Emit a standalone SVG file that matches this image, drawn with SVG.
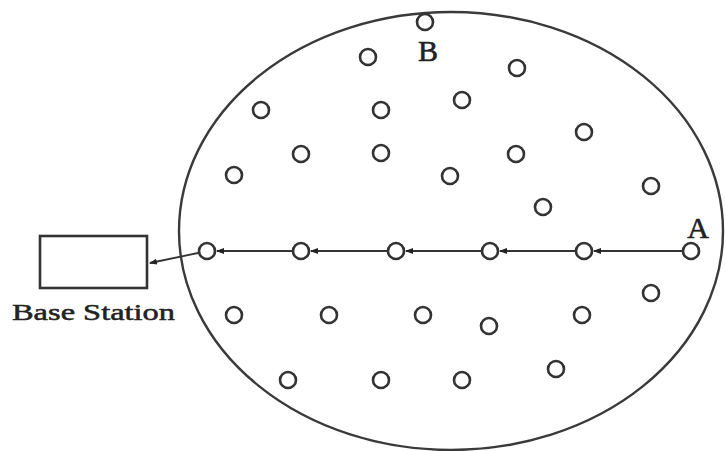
<svg xmlns="http://www.w3.org/2000/svg" width="726" height="451" viewBox="0 0 726 451">
<defs>
<marker id="ah" markerWidth="8" markerHeight="6" refX="7" refY="3" orient="auto" markerUnits="userSpaceOnUse">
<path d="M0,0 L8,3 L0,6 z" fill="#222"/>
</marker>
</defs>
<style>
.n{fill:#fff;stroke:#333;stroke-width:2.6}
.e{fill:none;stroke:#3a3a3a;stroke-width:2.4}
.c{stroke:#333;stroke-width:1.8;fill:none;marker-end:url(#ah)}
.t{font-family:"Liberation Serif",serif;fill:#222}
.L{font-size:30px;stroke:#222;stroke-width:0.6}
</style>
<rect width="726" height="451" fill="#fff"/>
<ellipse id="field" class="e" cx="451" cy="231" rx="272" ry="219"/>
<g id="connectors">
<line class="c" x1="682" y1="251" x2="594" y2="251"/>
<line class="c" x1="575" y1="251" x2="500" y2="251"/>
<line class="c" x1="481" y1="251" x2="406" y2="251"/>
<line class="c" x1="387" y1="251" x2="311" y2="251"/>
<line class="c" x1="292" y1="251" x2="217" y2="251"/>
<line class="c" x1="198" y1="253" x2="150" y2="263"/>
</g>
<g id="base-station">
<rect x="40" y="236" width="107" height="52" fill="#fff" stroke="#333" stroke-width="2.6"/>
<text class="t" x="12" y="320" font-size="23" textLength="163" lengthAdjust="spacingAndGlyphs" stroke="#222" stroke-width="0.5">Base Station</text>
</g>
<g id="node-B"><circle class="n" cx="425" cy="22" r="8"/><text class="t L" x="428" y="61" text-anchor="middle">B</text></g>
<g id="node-A"><circle class="n" cx="691" cy="251" r="8"/><text class="t L" x="698" y="238" text-anchor="middle">A</text></g>
<g id="n1"><circle class="n" cx="368" cy="57" r="8"/></g>
<g id="n2"><circle class="n" cx="517" cy="68" r="8"/></g>
<g id="n3"><circle class="n" cx="261" cy="110" r="8"/></g>
<g id="n4"><circle class="n" cx="381" cy="110" r="8"/></g>
<g id="n5"><circle class="n" cx="462" cy="100" r="8"/></g>
<g id="n6"><circle class="n" cx="584" cy="132" r="8"/></g>
<g id="n7"><circle class="n" cx="301" cy="154" r="8"/></g>
<g id="n8"><circle class="n" cx="381" cy="153" r="8"/></g>
<g id="n9"><circle class="n" cx="516" cy="154" r="8"/></g>
<g id="n10"><circle class="n" cx="234" cy="175" r="8"/></g>
<g id="n11"><circle class="n" cx="450" cy="176" r="8"/></g>
<g id="n12"><circle class="n" cx="651" cy="186" r="8"/></g>
<g id="n13"><circle class="n" cx="543" cy="207" r="8"/></g>
<g id="r1"><circle class="n" cx="207" cy="251" r="8"/></g>
<g id="r2"><circle class="n" cx="301" cy="251" r="8"/></g>
<g id="r3"><circle class="n" cx="396" cy="251" r="8"/></g>
<g id="r4"><circle class="n" cx="490" cy="251" r="8"/></g>
<g id="r5"><circle class="n" cx="584" cy="251" r="8"/></g>
<g id="n14"><circle class="n" cx="651" cy="293" r="8"/></g>
<g id="n15"><circle class="n" cx="234" cy="315" r="8"/></g>
<g id="n16"><circle class="n" cx="329" cy="315" r="8"/></g>
<g id="n17"><circle class="n" cx="423" cy="315" r="8"/></g>
<g id="n18"><circle class="n" cx="489" cy="326" r="8"/></g>
<g id="n19"><circle class="n" cx="582" cy="315" r="8"/></g>
<g id="n20"><circle class="n" cx="288" cy="380" r="8"/></g>
<g id="n21"><circle class="n" cx="381" cy="380" r="8"/></g>
<g id="n22"><circle class="n" cx="462" cy="380" r="8"/></g>
<g id="n23"><circle class="n" cx="556" cy="369" r="8"/></g>
</svg>
